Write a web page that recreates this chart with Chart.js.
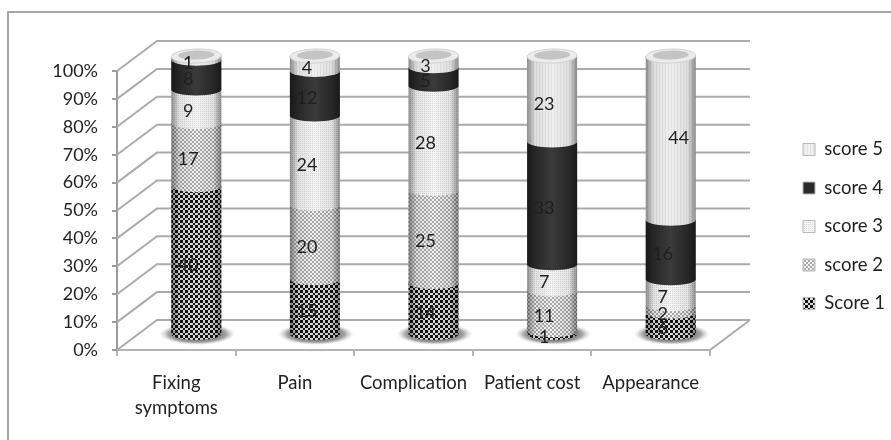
<!DOCTYPE html>
<html>
<head>
<meta charset="utf-8">
<script src="https://cdn.jsdelivr.net/npm/chart.js@4"></script>
<style>
  body { margin: 0; background: #fff; }
  canvas { display: block; }
</style>
</head>
<body>
<canvas id="chart" width="891" height="440"></canvas>
<script>
const categories = [['Fixing', 'symptoms'], 'Pain', 'Complication', 'Patient cost', 'Appearance'];
const score1 = [40, 15, 14, 1, 6];
const score2 = [17, 20, 25, 11, 2];
const score3 = [9, 24, 28, 7, 7];
const score4 = [8, 12, 5, 33, 16];
const score5 = [1, 4, 3, 23, 44];
const seriesNames = ['Score 1', 'score 2', 'score 3', 'score 4', 'score 5'];

const FONT = 'Lato';
const TEXT = '#1f1f1f';
const GRID = '#ababab';
const DEPTH_X = 40, DEPTH_Y = -30;

// small repeating tile for the dithered fills
function pattern(size, bg, fg, cells) {
  const c = document.createElement('canvas');
  c.width = c.height = size;
  const g = c.getContext('2d');
  g.fillStyle = bg;
  g.fillRect(0, 0, size, size);
  g.fillStyle = fg;
  cells.forEach(r => g.fillRect(r[0], r[1], r[2], r[3]));
  return g.createPattern(c, 'repeat');
}

const fills = [
  pattern(5, '#dcdcdc', '#141414', [[0, 0, 3, 3], [3, 3, 2, 2]]),
  pattern(4, '#f4f4f4', '#a8a8a8', [[0, 0, 2, 2], [2, 2, 2, 2]]),
  pattern(2, '#f6f6f6', '#d6d6d6', [[0, 0, 1, 1]]),
  '#2a2a2a',
  pattern(3, '#f1f1f1', '#e2e2e2', [[0, 0, 1, 3]])
];

const totals = categories.map((c, i) => score1[i] + score2[i] + score3[i] + score4[i] + score5[i]);
const share = arr => arr.map((v, i) => v / totals[i] * 100);

// back wall, side wall and floor, taken from the axis ticks
const walls = {
  id: 'walls',
  beforeDraw(chart) {
    const ctx = chart.ctx;
    ctx.save();
    ctx.strokeStyle = '#a6a6a6';
    ctx.lineWidth = 2;
    ctx.beginPath();
    ctx.moveTo(8, 440); ctx.lineTo(8, 12); ctx.lineTo(891, 12);
    ctx.stroke();
    ctx.restore();
  },
  beforeDatasetsDraw(chart) {
    const { ctx, chartArea: a, scales: { y } } = chart;
    ctx.save();
    ctx.strokeStyle = GRID;
    ctx.lineWidth = 2;
    ctx.beginPath();
    y.ticks.forEach(t => {
      const py = y.getPixelForValue(t.value);
      ctx.moveTo(a.left, py);
      ctx.lineTo(a.left + DEPTH_X, py + DEPTH_Y);
      ctx.lineTo(a.right + DEPTH_X, py + DEPTH_Y);
    });
    ctx.moveTo(a.right, a.bottom);
    ctx.lineTo(a.right + DEPTH_X, a.bottom + DEPTH_Y);
    ctx.stroke();
    ctx.restore();
    drawCylinders(chart);
    return false;
  }
};

function drawCylinders(chart) {
  const ctx = chart.ctx;
  const metas = chart.data.datasets.map((d, i) => chart.getDatasetMeta(i));
  ctx.save();
  ctx.translate(DEPTH_X / 2, DEPTH_Y / 2);

  // floor shadows
  metas[0].data.forEach(el => {
    ctx.save();
    ctx.translate(el.x + 1, el.base);
    ctx.scale(1, 11 / 38);
    const g = ctx.createRadialGradient(0, 0, 18, 0, 0, 38);
    g.addColorStop(0, 'rgba(90,90,90,0.95)');
    g.addColorStop(0.55, 'rgba(125,125,125,0.7)');
    g.addColorStop(1, 'rgba(200,200,200,0)');
    ctx.fillStyle = g;
    ctx.beginPath();
    ctx.arc(0, 0, 38, 0, Math.PI * 2);
    ctx.fill();
    ctx.restore();
  });

  // lowest series first, each bottom edge bulges over the one below
  metas.forEach((meta, s) => {
    meta.data.forEach(el => {
      const r = el.width / 2;
      ctx.beginPath();
      ctx.moveTo(el.x - r, el.y);
      ctx.lineTo(el.x - r, el.base);
      ctx.ellipse(el.x, el.base, r, 6, 0, Math.PI, 0, true);
      ctx.lineTo(el.x + r, el.y);
      ctx.closePath();
      ctx.fillStyle = fills[s];
      ctx.fill();
      const g = ctx.createLinearGradient(el.x - r, 0, el.x + r, 0);
      g.addColorStop(0, 'rgba(0,0,0,0.42)');
      g.addColorStop(0.16, 'rgba(0,0,0,0.08)');
      g.addColorStop(0.5, s === 3 ? 'rgba(255,255,255,0.08)' : 'rgba(0,0,0,0)');
      g.addColorStop(0.84, 'rgba(0,0,0,0.08)');
      g.addColorStop(1, 'rgba(0,0,0,0.42)');
      ctx.fillStyle = g;
      ctx.fill();
    });
  });

  // lids
  metas[metas.length - 1].data.forEach(el => {
    const r = el.width / 2;
    ctx.fillStyle = '#ececec';
    ctx.strokeStyle = '#d2d2d2';
    ctx.lineWidth = 1;
    ctx.beginPath();
    ctx.ellipse(el.x, el.y, r, 7, -0.03, 0, Math.PI * 2);
    ctx.fill();
    ctx.stroke();
    ctx.fillStyle = '#c4c4c4';
    ctx.beginPath();
    ctx.ellipse(el.x, el.y - 1, r - 7, 4.5, -0.03, 0, Math.PI * 2);
    ctx.fill();
  });

  // value labels
  ctx.font = '18px ' + FONT;
  ctx.fillStyle = TEXT;
  ctx.textAlign = 'center';
  ctx.textBaseline = 'middle';
  metas.forEach((meta, s) => {
    const raw = chart.data.datasets[s].counts;
    meta.data.forEach((el, i) => {
      const off = raw[i] === 44 ? [8, 0] : [-8, 5];
      ctx.fillText(raw[i], el.x + off[0], (el.y + el.base) / 2 + off[1]);
    });
  });
  ctx.restore();
}

// legend sits well clear of the floor, so slide it after layout
const legendShift = {
  id: 'legendShift',
  afterLayout(chart) {
    const l = chart.legend;
    const dx = 803 - 20 - l.left;
    const dy = -29;
    l.left += dx; l.right += dx;
    l.top += dy; l.bottom += dy;
  }
};

const allScores = [score1, score2, score3, score4, score5];

new Chart(document.getElementById('chart'), {
  type: 'bar',
  plugins: [walls, legendShift],
  data: {
    labels: categories,
    datasets: allScores.map((arr, i) => ({
      label: seriesNames[i],
      counts: arr,
      data: share(arr),
      backgroundColor: fills[i],
      borderColor: '#b8b8b8',
      borderWidth: 1,
      barThickness: 50
    }))
  },
  options: {
    responsive: false,
    animation: false,
    layout: { padding: { top: 71, right: 69, bottom: 0, left: 0 } },
    plugins: {
      tooltip: { enabled: false },
      legend: {
        position: 'right',
        reverse: true,
        labels: {
          boxWidth: 12,
          boxHeight: 12,
          padding: 20,
          color: TEXT,
          font: { family: FONT, size: 18.5 }
        }
      }
    },
    scales: {
      x: {
        stacked: true,
        afterFit(s) { s.height = 90; },
        border: { color: '#b4b4b4', width: 2 },
        grid: { drawOnChartArea: false, color: '#b4b4b4', lineWidth: 2, tickLength: 6 },
        ticks: {
          color: TEXT,
          padding: 15,
          maxRotation: 0,
          autoSkip: false,
          font: { family: FONT, size: 18.5, lineHeight: 1.35 }
        }
      },
      y: {
        stacked: true,
        min: 0,
        max: 100,
        afterFit(s) { s.width = 117; },
        border: { color: '#9c9c9c', width: 2 },
        grid: { drawOnChartArea: false, color: '#9c9c9c', lineWidth: 2, tickLength: 5 },
        ticks: {
          stepSize: 10,
          color: TEXT,
          padding: 14,
          callback: v => v + '%',
          font: { family: FONT, size: 18 }
        }
      }
    }
  }
});
</script>
</body>
</html>
